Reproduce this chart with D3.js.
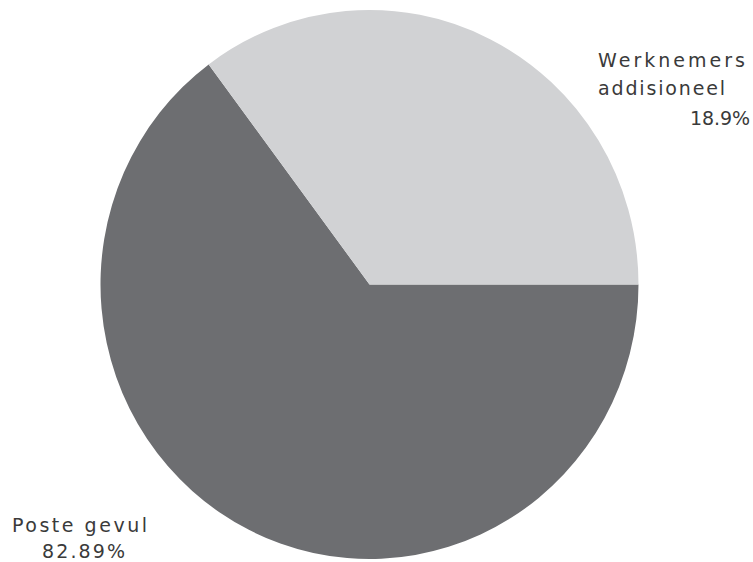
<!DOCTYPE html>
<html>
<head>
<meta charset="utf-8">
<script src="https://cdn.jsdelivr.net/npm/d3@7"></script>
<style>
html,body{margin:0;padding:0;background:#fff;}
svg{display:block;}
</style>
</head>
<body>
<svg id="chart" width="753" height="562"></svg>
<script>
// Data
const categories = ["Poste gevul", "Werknemers addisioneel"];
const sliceShares = [64.8, 35.2];          // visual share of the circle
const valueLabels = ["82.89%", "18.9%"];    // printed labels
const labelLines = [["Poste gevul", "82.89%"], ["Werknemers", "addisioneel", "18.9%"]];
const colors = ["#6d6e71", "#d1d2d4"];

const svg = d3.select("#chart");
const cx = 369.5, cy = 284.5, r = 269, sy = 274.5 / 269;

const pie = d3.pie().sort(null).value(d => d)
  .startAngle(Math.PI / 2).endAngle(Math.PI / 2 + 2 * Math.PI);
const arc = d3.arc().innerRadius(0).outerRadius(r);

const g = svg.append("g").attr("transform", `translate(${cx},${cy}) scale(1,${sy})`);
g.selectAll("path").data(pie(sliceShares)).join("path")
  .attr("d", arc)
  .attr("fill", (d, i) => colors[i]);

// Labels
const labelPos = [
  [{x: 12, y: 532, w: 135}, {x: 42, y: 558, w: 83}],
  [{x: 598, y: 67, w: 147}, {x: 598, y: 95, w: 127}, {x: 690, y: 125, w: 60}]
];
const lg = svg.append("g")
  .attr("font-family", "'DejaVu Sans', sans-serif")
  .attr("font-size", 19)
  .attr("font-weight", "normal")
  .attr("fill", "#3a3a3a");
labelLines.forEach((lines, i) => {
  lines.forEach((t, j) => {
    const p = labelPos[i][j];
    lg.append("text")
      .attr("x", p.x).attr("y", p.y)
      .attr("textLength", p.w)
      .attr("lengthAdjust", "spacing")
      .text(t);
  });
});
</script>
</body>
</html>
